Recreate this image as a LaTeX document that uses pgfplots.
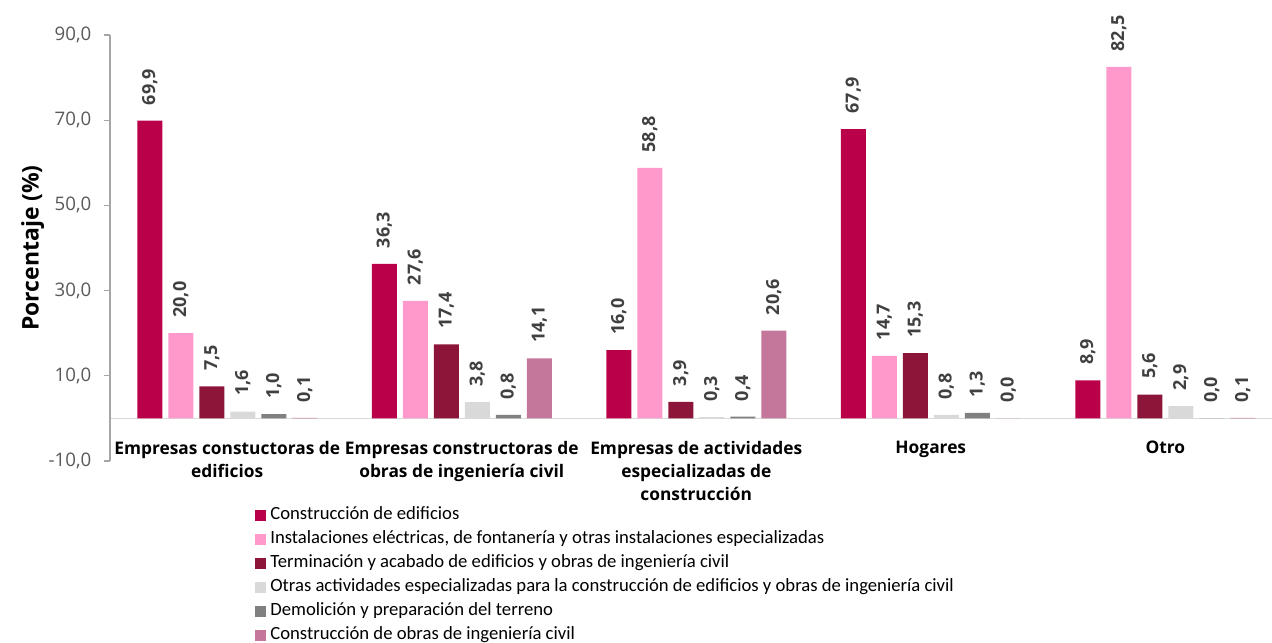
\documentclass[border=0pt]{standalone}
\usepackage{pgfplots}
\pgfplotsset{compat=1.18}
\usepackage{fontspec}
\setmainfont{Open Sans}
\newfontfamily\legfont{Carlito}

\definecolor{cA}{RGB}{186,0,73}
\definecolor{cB}{RGB}{255,153,204}
\definecolor{cC}{RGB}{142,21,58}
\definecolor{cD}{RGB}{217,217,217}
\definecolor{cE}{RGB}{128,128,128}
\definecolor{cF}{RGB}{196,119,155}
\definecolor{axisgray}{RGB}{166,166,166}
\definecolor{zerogray}{RGB}{217,217,217}
\definecolor{ticktext}{RGB}{89,89,89}
\definecolor{labtext}{RGB}{64,64,64}

\begin{document}
\begin{tikzpicture}
\begin{axis}[
    scale only axis,
    width=871.5pt, height=319.5pt,
    xmin=-0.5, xmax=4.455,
    ymin=-10, ymax=90,
    clip=false,
    ybar=4.5pt,
    bar width=18.75pt,
    axis y line*=left,
    axis x line*=middle,
    y axis line style={-, draw=axisgray, line width=0.8pt},
    x axis line style={-, draw=zerogray, line width=1pt},
    ytick={-10,10,30,50,70,90},
    ytick style={draw=axisgray, line width=0.8pt},
    tick align=outside,
    major tick length=4.5pt,
    xtick={0,1,2,3,4},
    xtick style={draw=none},
    xticklabels={{Empresas constuctoras de\\edificios},
                 {Empresas constructoras de\\obras de ingeniería civil},
                 {Empresas de actividades\\especializadas de\\construcción},
                 {Hogares},
                 {Otro}},
    xticklabel style={align=center, font=\bfseries\fontsize{13}{17.25}\selectfont, text=black, yshift=-9pt},
    yticklabel style={font=\fontsize{14}{16}\selectfont, text=ticktext, xshift=-6pt},
    /pgf/number format/fixed,
    /pgf/number format/fixed zerofill,
    /pgf/number format/precision=1,
    /pgf/number format/use comma,
    /pgf/number format/assume math mode=true,
    ylabel={Porcentaje (\%)},
    ylabel style={at={(axis description cs:-0.0665,0.5)}, anchor=center,
                  font=\bfseries\fontsize{17.2}{19}\selectfont, text=black},
    nodes near coords,
    every node near coord/.append style={rotate=90, anchor=west,
        inner xsep=11.5pt, inner ysep=0pt,
        font=\bfseries\fontsize{13.5}{16}\selectfont, text=labtext},
    legend image code/.code={\fill[#1,draw=none] (0pt,-4.125pt) rectangle (8.25pt,4.125pt);},
    legend style={at={(axis description cs:0.1214,-0.103)}, anchor=north west,
        draw=none, fill=none,
        font=\legfont\fontsize{14}{16}\selectfont,
        nodes={inner sep=0pt, text height=9pt, text depth=3pt},
        row sep=6pt, column sep=3pt},
    legend cell align=left,
]
\addplot[fill=cA, draw=none] coordinates {(0,69.9) (1,36.3) (2,16.0) (3,67.9) (4,8.9)};
\addplot[fill=cB, draw=none] coordinates {(0,20.0) (1,27.6) (2,58.8) (3,14.7) (4,82.5)};
\addplot[fill=cC, draw=none] coordinates {(0,7.5) (1,17.4) (2,3.9) (3,15.3) (4,5.6)};
\addplot[fill=cD, draw=none] coordinates {(0,1.6) (1,3.8) (2,0.3) (3,0.8) (4,2.9)};
\addplot[fill=cE, draw=none] coordinates {(0,1.0) (1,0.8) (2,0.4) (3,1.3) (4,0.0)};
\addplot[fill=cF, draw=none] coordinates {(0,0.1) (1,14.1) (2,20.6) (3,0.0) (4,0.1)};
\legend{Construcción de edificios,
        {Instalaciones eléctricas, de fontanería y otras instalaciones especializadas},
        Terminación y acabado de edificios y obras de ingeniería civil,
        Otras actividades especializadas para la construcción de edificios y obras de ingeniería civil,
        Demolición y preparación del terreno,
        Construcción de obras de ingeniería civil}
\end{axis}
\pgfresetboundingbox
\path[use as bounding box] (-82.5pt,-136.5pt) rectangle (871.5pt,345.75pt);
\end{tikzpicture}
\end{document}
